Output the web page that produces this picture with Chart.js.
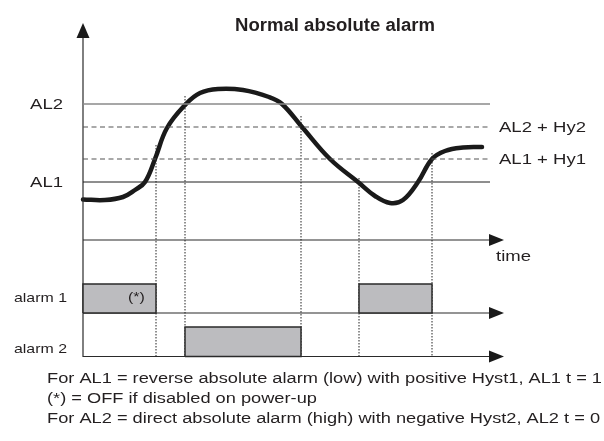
<!DOCTYPE html>
<html><head><meta charset="utf-8">
<script src="https://cdn.jsdelivr.net/npm/chart.js@4/dist/chart.umd.min.js"></script>
<style>html,body{margin:0;padding:0;background:#fff;}canvas{display:block;}</style>
</head><body>
<canvas id="c" width="604" height="441"></canvas>
<script>
// ---------- data ----------
const titleText = 'Normal absolute alarm';
const levelLabels = ['AL2', 'AL2 + Hy2', 'AL1 + Hy1', 'AL1'];
const levelValues = [136, 113, 81, 58];
const curveTime  = [0, 22, 40, 52, 62, 72, 84, 103, 117, 135, 160, 186, 199, 219, 247, 275, 292, 307, 320, 335, 349, 362, 380, 399];
const curveValue = [40.5, 40, 43, 50, 58, 81, 112, 136, 147, 151, 150, 143, 136, 113, 81, 58, 44, 37, 40, 58, 81, 89, 92.5, 93];
const switchTimes = [73, 102, 218, 276, 349];
const switchTops  = [95, 144, 124, 62, 87];
const alarmNames = ['alarm 1', 'alarm 2'];
const alarmBase = [-73, -116.5];
const alarmHigh = [-44, -87];
const alarm1On = [[0, 73], [276, 349]];
const alarm2On = [[102, 218]];
const timeLabel = 'time';
const noteMark = '(*)';
const footerLines = [
  'For AL1 = reverse absolute alarm (low) with positive Hyst1, AL1 t = 1',
  '(*) = OFF if disabled on power-up',
  'For AL2 = direct absolute alarm (high) with negative Hyst2, AL2 t = 0'
];

// ---------- chart ----------
const X_MAX = 421, LINE_END = 407, Y_MIN = -117, Y_MAX = 217, Y_ARROW_BASE = 202;
const FONT = '"Liberation Sans", Arial, sans-serif';
const ds = [];
const seg = (pts, o) => ds.push(Object.assign({data: pts, showLine: true, pointRadius: 0, fill: false, clip: false, borderWidth: 1, borderColor: '#333', tension: 0}, o));

// alarm boxes
const boxes = [];
alarm1On.forEach(r => boxes.push([r, 0]));
alarm2On.forEach(r => boxes.push([r, 1]));
boxes.forEach(([r, i]) => {
  const b = alarmBase[i], h = alarmHigh[i];
  seg([{x:r[0],y:b},{x:r[0],y:h},{x:r[1],y:h},{x:r[1],y:b},{x:r[0],y:b}],
      {fill: 'shape', backgroundColor: '#bcbcbf', borderColor: '#2a2a2a', borderWidth: 1.5});
});
// level lines
levelValues.forEach((v, i) => {
  const style = i === 0 ? {borderColor: '#8a8a8a', borderWidth: 1.6}
              : i === 3 ? {borderColor: '#1e1e1e', borderWidth: 1}
              : {borderColor: '#555', borderWidth: 1.2, borderDash: [5, 3.5]};
  seg([{x:0,y:v},{x:LINE_END,y:v}], style);
});
// switching dotted lines
switchTimes.forEach((t, i) => seg([{x:t,y:switchTops[i]},{x:t,y:Y_MIN}], {borderColor:'#222', borderWidth:1, borderDash:[1.5,1.5]}));
// time axes
[0, alarmBase[0], alarmBase[1]].forEach(v => seg([{x:0,y:v},{x:LINE_END,y:v}], {borderColor:'#2a2a2a', borderWidth:1.2}));
// value axis
seg([{x:0,y:Y_MIN},{x:0,y:Y_ARROW_BASE}], {borderColor:'#2a2a2a', borderWidth:1.2});
// curve
seg(curveTime.map((t, i) => ({x:t, y:curveValue[i]})),
    {borderColor:'#1a1a1a', borderWidth:4.5, tension:0.4, borderCapStyle:'round', borderJoinStyle:'round'});

function txt(ctx, s, x, y, font, align, sx) {
  ctx.save();
  ctx.font = font; ctx.fillStyle = '#231f20'; ctx.textBaseline = 'alphabetic';
  ctx.translate(x, y); ctx.scale(sx || 1, 1);
  ctx.textAlign = align || 'left';
  ctx.fillText(s, 0, 0);
  ctx.restore();
}
function fitScale(ctx, s, font, w) { ctx.font = font; return w / ctx.measureText(s).width; }

const decor = {
  id: 'decor',
  afterDatasetsDraw(chart) {
    const ctx = chart.ctx, xs = chart.scales.x, ys = chart.scales.y;
    ctx.save();
    ctx.fillStyle = '#1a1a1a';
    // arrowheads
    const x0 = xs.getPixelForValue(0);
    ctx.beginPath();
    ctx.moveTo(x0, ys.getPixelForValue(Y_MAX));
    ctx.lineTo(x0 - 6.5, ys.getPixelForValue(Y_ARROW_BASE));
    ctx.lineTo(x0 + 6.5, ys.getPixelForValue(Y_ARROW_BASE));
    ctx.closePath(); ctx.fill();
    [0, alarmBase[0], alarmBase[1]].forEach(v => {
      const y = ys.getPixelForValue(v);
      const xt = xs.getPixelForValue(X_MAX), xb = xs.getPixelForValue(LINE_END - 1);
      ctx.beginPath(); ctx.moveTo(xt, y); ctx.lineTo(xb, y - 6); ctx.lineTo(xb, y + 6); ctx.closePath(); ctx.fill();
    });
    ctx.restore();

    const L = chart.chartArea.left;
    const f14 = '14.5px ' + FONT;
    const sLab = fitScale(ctx, 'AL2 + Hy2', f14, 87);
    // title
    const fT = 'bold 18px ' + FONT;
    txt(ctx, titleText, 235, 31, fT, 'left', fitScale(ctx, titleText, fT, 200));
    // level labels
    const lx = xs.getPixelForValue(LINE_END) + 9;
    levelLabels.forEach((s, i) => {
      const y = ys.getPixelForValue(levelValues[i]) + 5;
      if (i === 0 || i === 3) txt(ctx, s, L - 20, y, f14, 'right', sLab);
      else txt(ctx, s, lx, y, f14, 'left', sLab);
    });
    txt(ctx, timeLabel, xs.getPixelForValue(LINE_END) + 6, ys.getPixelForValue(0) + 21, f14, 'left', sLab);
    const fa = '13.5px ' + FONT;
    const sA = fitScale(ctx, alarmNames[0], fa, 53);
    txt(ctx, alarmNames[0], 14, ys.getPixelForValue(alarmBase[0]) - 11, fa, 'left', sA);
    txt(ctx, alarmNames[1], 14, ys.getPixelForValue(alarmBase[1]) - 3.5, fa, 'left', sA);
    txt(ctx, noteMark, xs.getPixelForValue(alarm1On[0][1]) - 28, ys.getPixelForValue(alarmBase[0]) - 12, fa, 'left', sA);
    // footer
    const fF = '15.5px ' + FONT;
    const sF = fitScale(ctx, footerLines[0], fF, 555);
    footerLines.forEach((s, i) => txt(ctx, s, 47, 383 + i * 20, fF, 'left', sF));
  }
};

new Chart(document.getElementById('c'), {
  type: 'scatter',
  data: {datasets: ds},
  options: {
    responsive: false, animation: false, devicePixelRatio: 1,
    layout: {padding: {left: 83, right: 100, top: 23, bottom: 84}},
    scales: {
      x: {type: 'linear', min: 0, max: X_MAX, display: false},
      y: {type: 'linear', min: Y_MIN, max: Y_MAX, display: false}
    },
    plugins: {legend: {display: false}, tooltip: {enabled: false}, title: {display: false}}
  },
  plugins: [decor]
});
</script>
</body></html>
